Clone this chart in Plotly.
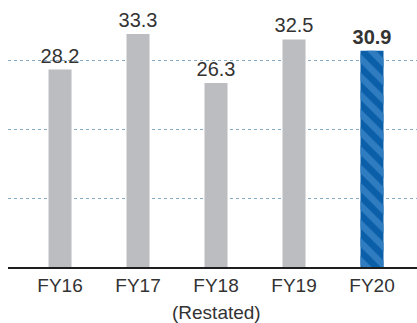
import plotly.graph_objects as go

categories = ["FY16", "FY17", "FY18", "FY19", "FY20"]
values = [28.2, 33.3, 26.3, 32.5, 30.9]
highlight = [False, False, False, False, True]
grid_values = [9.76, 19.67, 29.47]
note_category = "FY18"
note_text = "(Restated)"

gray = "#bcbdc1"
blue = "#0a5fa8"
stripe = "#2f7cc0"

colors = [blue if h else gray for h in highlight]
texts = [f"<b>{v:.1f}</b>" if h else f"{v:.1f}" for v, h in zip(values, highlight)]
hl_x = [c for c, h in zip(categories, highlight) if h]
hl_y = [v for v, h in zip(values, highlight) if h]

fig = go.Figure()
fig.add_trace(go.Bar(
    x=categories,
    y=values,
    width=0.295,
    marker=dict(color=colors, line=dict(width=0)),
    text=texts,
    textposition="outside",
    constraintext="none",
    cliponaxis=False,
    textfont=dict(family="Liberation Sans", size=20, color="#333333"),
))
fig.add_trace(go.Bar(
    x=hl_x,
    y=hl_y,
    width=0.295,
    marker=dict(
        color="rgba(0,0,0,0)",
        line=dict(width=0),
        pattern=dict(shape="\\", fgcolor=stripe, bgcolor="rgba(0,0,0,0)", fgopacity=1,
                     size=13, solidity=0.5),
    ),
    hoverinfo="skip",
))

fig.update_layout(
    width=417, height=323,
    margin=dict(l=8, r=0, t=0, b=56),
    paper_bgcolor="white", plot_bgcolor="white",
    showlegend=False,
    barmode="overlay",
    font=dict(family="Liberation Sans", color="#333333"),
    xaxis=dict(
        range=[-0.667, 4.577],
        showline=True, linecolor="#1e1e1e", linewidth=2,
        showgrid=False, ticks="",
        tickfont=dict(size=19, color="#333333"),
    ),
    yaxis=dict(
        range=[0, 38.14],
        showticklabels=False,
        showgrid=True, gridcolor="#86aac2", griddash="dot", gridwidth=1,
        tickvals=grid_values,
        zeroline=False,
    ),
    annotations=[dict(
        x=note_category, y=0, xref="x", yref="y",
        text=note_text, showarrow=False,
        yanchor="middle", yshift=-45.5,
        font=dict(size=19, color="#333333", family="Liberation Sans"),
    )],
)

fig.write_html("out.html")
